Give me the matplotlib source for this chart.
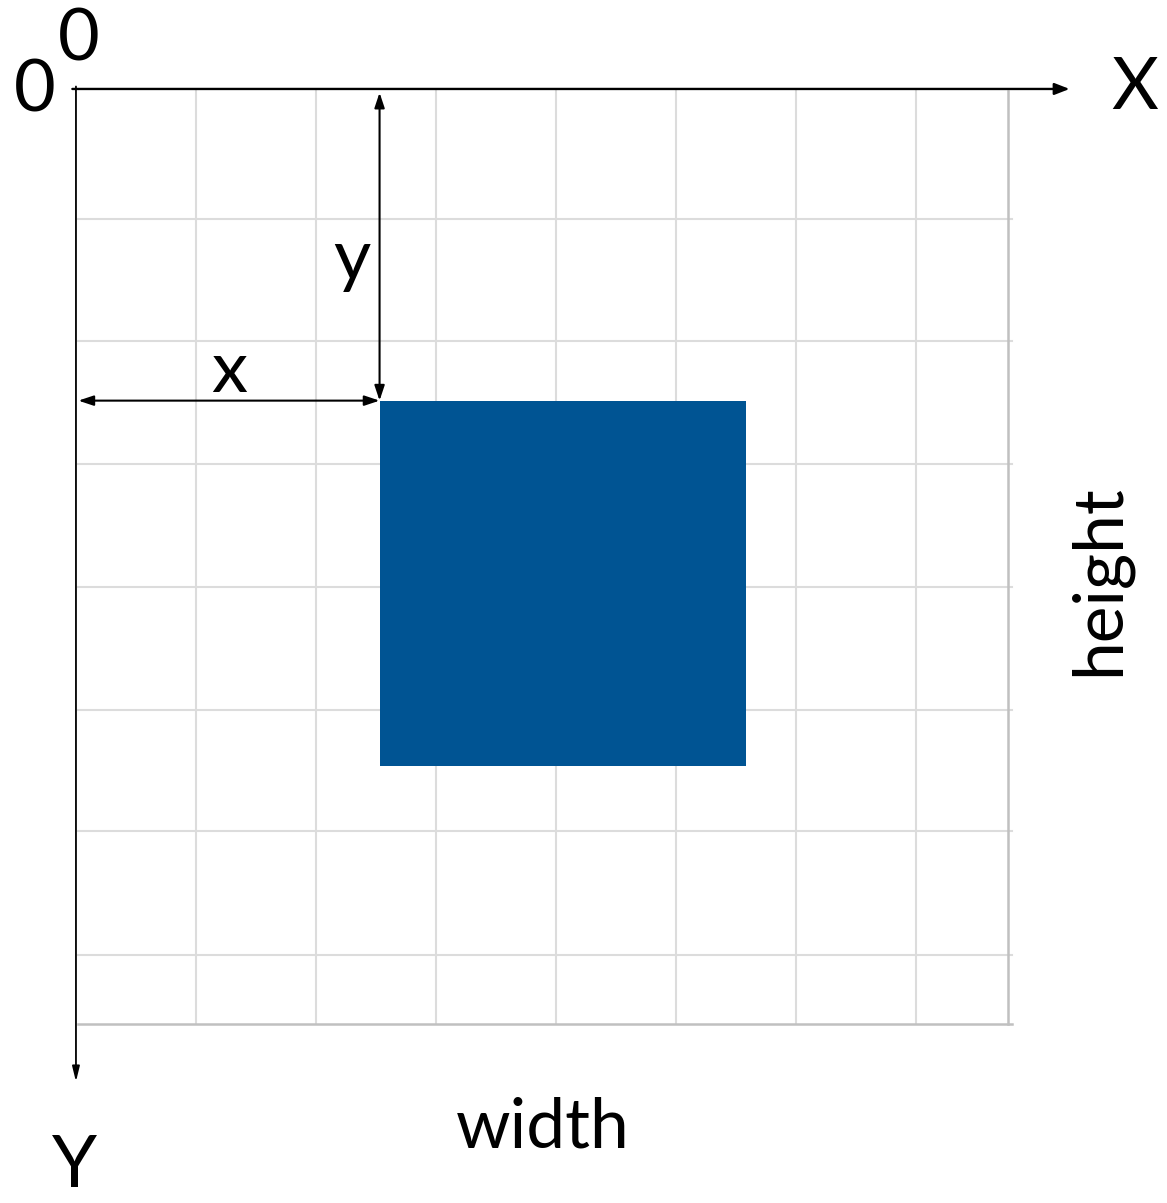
import matplotlib
matplotlib.use('Agg')
import matplotlib.pyplot as plt
from matplotlib.patches import Rectangle

plt.rcParams['font.family'] = ['Lato', 'DejaVu Sans']

# grid in cell units, y grows downward
grid_w = 7.77
grid_h = 7.62
grid_cols = [1, 2, 3, 4, 5, 6, 7]
grid_rows = [1.06, 2.05, 3.06, 4.06, 5.06, 6.05, 7.06]

# the rectangle
rect_x = 2.53
rect_y = 2.54
rect_w = 3.05
rect_h = 2.98

fig = plt.figure(figsize=(11.67, 12.03), dpi=100)
ax = fig.add_axes([0, 0, 1, 1])
ax.set_xlim(-0.633, 9.092)
ax.set_ylim(9.079, -0.725)
ax.axis('off')

grid_c = '#dcdcdc'
for c in grid_cols:
    ax.plot([c, c], [0.02, grid_h], color=grid_c, lw=1.5, zorder=1)
for r in grid_rows:
    ax.plot([0.02, grid_w + 0.03], [r, r], color=grid_c, lw=1.5, zorder=1)
ax.plot([grid_w, grid_w], [0.02, grid_h], color='#c0c0c0', lw=1.8, zorder=1)
ax.plot([0.02, grid_w + 0.03], [grid_h, grid_h], color='#c0c0c0', lw=1.8, zorder=1)

ax.add_patch(Rectangle((rect_x, rect_y), rect_w, rect_h, facecolor='#005493',
                       edgecolor='none', zorder=2))

# axes arrows
ax.annotate('', xy=(8.28, 0), xytext=(-0.03, 0),
            arrowprops=dict(arrowstyle='-|>,head_length=0.9,head_width=0.35',
                            color='black', lw=1.7, shrinkA=0, shrinkB=0), zorder=3)
ax.annotate('', xy=(0, 8.09), xytext=(0, -0.02),
            arrowprops=dict(arrowstyle='-|>,head_length=0.9,head_width=0.22',
                            color='black', lw=1.3, shrinkA=0, shrinkB=0), zorder=3)

# dimension arrows
ax.annotate('', xy=(rect_x, rect_y), xytext=(0.02, rect_y),
            arrowprops=dict(arrowstyle='<|-|>,head_length=0.9,head_width=0.3',
                            color='black', lw=1.5, shrinkA=0, shrinkB=0), zorder=3)
ax.annotate('', xy=(rect_x, rect_y), xytext=(rect_x, 0.03),
            arrowprops=dict(arrowstyle='<|-|>,head_length=0.9,head_width=0.3',
                            color='black', lw=1.5, shrinkA=0, shrinkB=0), zorder=3)

fs = 52
ax.text(-0.34, 0.02, '0', fontsize=fs, ha='center', va='center')
ax.text(0.02, -0.40, '0', fontsize=fs, ha='center', va='center')
ax.text(8.82, 0.0, 'X', fontsize=fs, ha='center', va='center')
ax.text(-0.01, 9.05, 'Y', fontsize=fs, ha='center', va='bottom')
ax.text(1.28, 2.30, 'x', fontsize=fs, ha='center', va='center')
ax.text(2.3, 1.39, 'y', fontsize=fs, ha='center', va='center')
ax.text(3.89, 8.47, 'width', fontsize=50, ha='center', va='center')
ax.text(8.53, 4.0, 'height', fontsize=50, ha='center', va='center', rotation=90)

plt.savefig('out.png', dpi=100)
